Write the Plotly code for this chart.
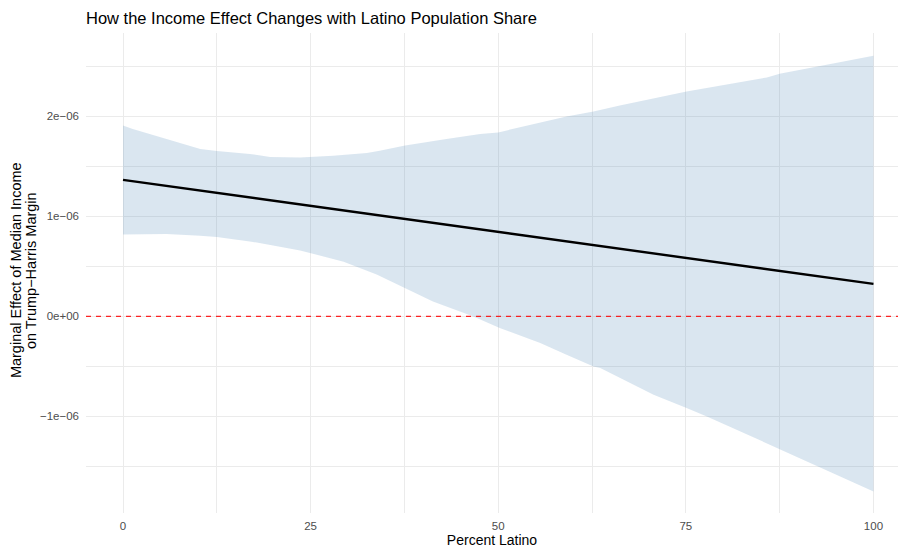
import plotly.graph_objects as go

# Marginal effect of median income (per dollar) across Latino population share
pct_latino_line = [0, 25, 50, 75, 100]
effect_line = [1.365e-06, 1.105e-06, 0.845e-06, 0.585e-06, 0.325e-06]

# Upper bound of the 95% confidence band
upper_x = [0, 1.3, 5.8, 10.3, 12.5, 16.9, 19.6, 23.6, 28.0, 32.5, 34.2, 37.6,
           43.1, 47.6, 50.0, 54.2, 59.1, 62.7, 66.2, 75.1, 85.8, 87.5, 92.4, 100]
upper_y = [1.91e-06, 1.875e-06, 1.775e-06, 1.675e-06, 1.655e-06, 1.625e-06,
           1.595e-06, 1.59e-06, 1.607e-06, 1.634e-06, 1.657e-06, 1.71e-06,
           1.774e-06, 1.824e-06, 1.84e-06, 1.917e-06, 2.0e-06, 2.05e-06,
           2.11e-06, 2.25e-06, 2.39e-06, 2.427e-06, 2.50e-06, 2.607e-06]

# Lower bound of the 95% confidence band
lower_x = [0, 5.8, 10.3, 12.5, 16.9, 20.0, 23.6, 24.9, 29.4, 33.8, 34.7, 37.6,
           41.3, 46.7, 50.2, 55.6, 59.1, 62.7, 63.6, 70.7, 75.1, 77.8, 87.5, 100]
lower_y = [0.82e-06, 0.824e-06, 0.807e-06, 0.794e-06, 0.75e-06, 0.71e-06,
           0.66e-06, 0.64e-06, 0.547e-06, 0.42e-06, 0.384e-06, 0.284e-06,
           0.15e-06, 0.0, -0.116e-06, -0.266e-06, -0.383e-06, -0.50e-06,
           -0.517e-06, -0.783e-06, -0.917e-06, -1.0e-06, -1.326e-06, -1.75e-06]

x_ticks = [0, 25, 50, 75, 100]
x_tick_labels = ["0", "25", "50", "75", "100"]
y_ticks = [-1e-06, 0, 1e-06, 2e-06]
y_tick_labels = ["\u22121e\u221206", "0e+00", "1e\u221206", "2e\u221206"]

FONT = "Liberation Sans, Arial, Helvetica, sans-serif"
GRID = "#EBEBEB"

fig = go.Figure()

# Confidence band as a closed polygon
fig.add_trace(go.Scatter(
    x=upper_x + lower_x[::-1],
    y=upper_y + lower_y[::-1],
    mode="lines",
    fill="toself",
    fillcolor="rgba(70,130,180,0.2)",
    line=dict(width=0, color="rgba(0,0,0,0)"),
    hoverinfo="skip",
    showlegend=False,
))

# Point estimate of the marginal effect
fig.add_trace(go.Scatter(
    x=pct_latino_line, y=effect_line, mode="lines",
    line=dict(color="black", width=2.4),
    showlegend=False,
))

# Zero reference line
fig.add_hline(y=0, line=dict(color="rgba(255,0,0,0.85)", width=1.4, dash="5px,5px"))

fig.update_layout(
    width=898, height=548,
    margin=dict(l=86, r=0, t=33, b=35),
    paper_bgcolor="white", plot_bgcolor="white",
    font=dict(family=FONT, color="black"),
    title=dict(
        text="How the Income Effect Changes with Latino Population Share",
        x=86 / 898, xref="container", xanchor="left",
        y=1 - 18 / 548, yref="container", yanchor="middle",
        font=dict(size=16.5, color="black", family=FONT),
    ),
    xaxis=dict(
        range=[-4.93, 103.27],
        tickvals=x_ticks, ticktext=x_tick_labels,
        tickfont=dict(size=11.5, color="#4D4D4D"),
        ticklabelstandoff=4,
        showgrid=True, gridcolor=GRID, gridwidth=1.3,
        zeroline=False, showline=False, ticks="",
        minor=dict(tickvals=[12.5, 37.5, 62.5, 87.5], showgrid=True,
                   gridcolor=GRID, gridwidth=0.7),
        title=dict(text="Percent Latino", font=dict(size=14, color="black"),
                   standoff=4),
        automargin=False,
    ),
    yaxis=dict(
        range=[-1.966e-06, 2.834e-06],
        tickvals=y_ticks, ticktext=y_tick_labels,
        tickfont=dict(size=11.5, color="#4D4D4D"),
        ticklabelstandoff=6,
        showgrid=True, gridcolor=GRID, gridwidth=1.3,
        zeroline=False, showline=False, ticks="",
        minor=dict(tickvals=[-1.5e-06, -0.5e-06, 0.5e-06, 1.5e-06, 2.5e-06],
                   showgrid=True, gridcolor=GRID, gridwidth=0.7),
        automargin=False,
    ),
)

# Two-line y-axis title
for text, px in [("Marginal Effect of Median Income", 15.5),
                 ("on Trump\u2212Harris Margin", 30.5)]:
    fig.add_annotation(
        text=text, textangle=-90,
        xref="paper", x=(px - 86) / 812, xanchor="center",
        yref="paper", y=0.505, yanchor="middle",
        showarrow=False, font=dict(size=14.5, color="black", family=FONT),
    )

fig.write_html("out.html")
